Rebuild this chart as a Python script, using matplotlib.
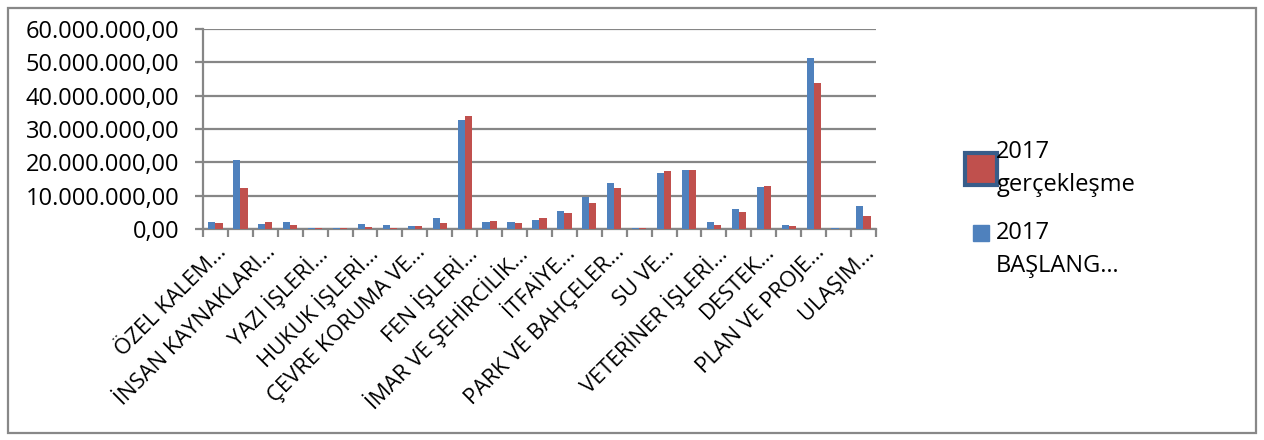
import numpy as np
import matplotlib.pyplot as plt
from matplotlib.patches import Rectangle
from matplotlib.lines import Line2D
from matplotlib.legend_handler import HandlerLine2D
from matplotlib.ticker import FuncFormatter, FixedLocator

plt.rcParams['font.family'] = ['Open Sans', 'DejaVu Sans']

# departments (only every second one is labelled on the chart)
categories = [
    'ÖZEL KALEM…', 'MALİ HİZMETLER…', 'İNSAN KAYNAKLARI…', 'BİLGİ İŞLEM…',
    'YAZI İŞLERİ…', 'ZABITA…', 'HUKUK İŞLERİ…', 'EMLAK VE…',
    'ÇEVRE KORUMA VE…', 'KÜLTÜR VE…', 'FEN İŞLERİ…', 'STRATEJİ…',
    'İMAR VE ŞEHİRCİLİK…', 'SAĞLIK İŞLERİ…', 'İTFAİYE…', 'SOSYAL…',
    'PARK VE BAHÇELER…', 'TEFTİŞ…', 'SU VE…', 'İŞLETME VE…',
    'VETERİNER İŞLERİ…', 'BASIN YAYIN…', 'DESTEK…', 'MUHTARLIK…',
    'PLAN VE PROJE…', 'İKLİM…', 'ULAŞIM…',
]

baslangic = [
    2.0, 20.7, 1.4, 2.2, 0.4, 0.3, 1.6, 1.1, 1.0, 3.3, 32.6, 2.2, 2.2, 2.7,
    5.5, 9.5, 13.9, 0.4, 16.9, 17.8, 2.0, 5.9, 12.5, 1.3, 51.2, 0.2, 6.9,
]
gerceklesme = [
    1.8, 12.3, 2.2, 1.2, 0.3, 0.2, 0.5, 0.3, 0.8, 1.9, 33.9, 2.5, 1.8, 3.2,
    4.9, 7.9, 12.4, 0.3, 17.4, 17.6, 1.2, 5.2, 12.9, 0.9, 43.7, 0.05, 3.8,
]

baslangic = np.array(baslangic) * 1e6
gerceklesme = np.array(gerceklesme) * 1e6

blue = '#4f81bd'
red = '#c0504d'
grid = '#868686'


class TopHandler(HandlerLine2D):
    # puts the marker next to the first text line instead of the middle
    def create_artists(self, legend, orig_handle, xdescent, ydescent,
                       width, height, fontsize, trans):
        arts = super().create_artists(legend, orig_handle, xdescent, ydescent,
                                      width, height, fontsize, trans)
        for a in arts:
            a.set_ydata(np.asarray(a.get_ydata()) + 12)
        return arts


fig = plt.figure(figsize=(12.64, 4.4), dpi=100)
ax = fig.add_axes([0.1606, 0.4795, 0.5324, 0.4545])

x = np.arange(len(categories))
w = 0.286
ax.bar(x - w / 2, baslangic, w, color=blue, zorder=3)
ax.bar(x + w / 2, gerceklesme, w, color=red, zorder=3)

ax.set_xlim(-0.5, len(categories) - 0.5)
ax.set_ylim(0, 60e6)
ax.set_yticks(np.arange(0, 60e6 + 1, 10e6))


def tr_fmt(v, pos):
    s = f'{v:,.2f}'
    return s.replace(',', '#').replace('.', ',').replace('#', '.')


ax.yaxis.set_major_formatter(FuncFormatter(tr_fmt))
ax.yaxis.grid(True, color=grid, lw=1.6, zorder=0)

ax.xaxis.set_major_locator(FixedLocator(x[::2]))
ax.set_xticklabels(categories[::2], rotation=45, ha='right',
                   rotation_mode='anchor', fontsize=15.8)
ax.xaxis.set_minor_locator(FixedLocator(np.arange(len(categories) + 1) - 0.5))
ax.tick_params(axis='x', which='major', length=0, pad=9)
ax.tick_params(axis='x', which='minor', length=6, width=1.6, color=grid)
ax.tick_params(axis='y', length=6, width=1.6, color=grid, labelsize=17, pad=11)

for side in ['top', 'right']:
    ax.spines[side].set_visible(False)
for side in ['left', 'bottom']:
    ax.spines[side].set_color(grid)
    ax.spines[side].set_linewidth(1.6)

red_h = Line2D([], [], marker='s', linestyle='none', markersize=23,
               markerfacecolor=red, markeredgecolor='#385d8a', markeredgewidth=3)
blue_h = Line2D([], [], marker='s', linestyle='none', markersize=11,
                markerfacecolor=blue, markeredgecolor=blue)
labels = ['2017\ngerçekleşme', '2017\nBAŞLANG…']
leg = fig.legend([red_h, blue_h], labels, loc='upper left',
                 bbox_to_anchor=(0.748, 0.73), frameon=False, fontsize=17,
                 handlelength=1.2, handletextpad=0.05, labelspacing=1.0,
                 handler_map={blue_h: TopHandler()})
for t in leg.get_texts():
    t.set_linespacing(1.5)

fig.patches.append(Rectangle((0.0066, 0.016), 0.9868, 0.966, transform=fig.transFigure,
                             fill=False, edgecolor='#888888', lw=1.6))

fig.savefig('out.png', dpi=100)
